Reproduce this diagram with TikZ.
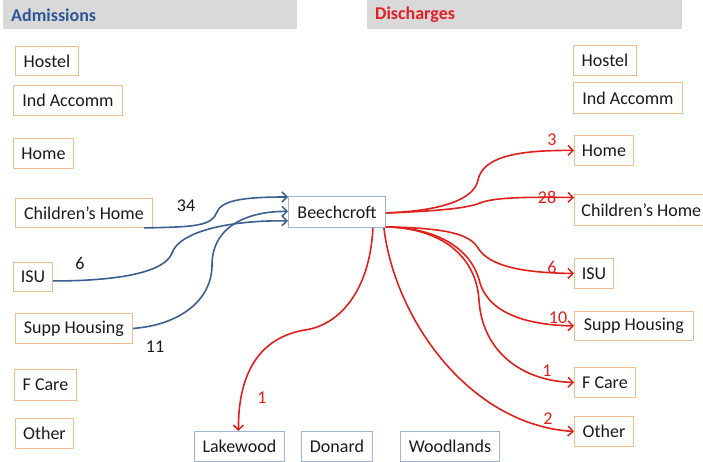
\documentclass[tikz,border=0pt]{standalone}
\usepackage{fontspec}
\setmainfont{Carlito}
\usetikzlibrary{arrows.meta,calc}

\definecolor{headgray}{HTML}{D9D9D9}
\definecolor{admblue}{HTML}{2E5694}
\definecolor{disred}{HTML}{E21F26}
\definecolor{orangeb}{HTML}{F2BC8E}
\definecolor{blueb}{HTML}{9DB5D4}
\definecolor{bluearr}{HTML}{3B5F8F}
\definecolor{redarr}{HTML}{E0201C}
\definecolor{boxtext}{HTML}{1A1A1A}

\newcommand{\boxfont}{\fontsize{18}{21}\selectfont}

\tikzset{
  box/.style={draw, line width=0.9pt, inner sep=0pt, anchor=north west,
    text=boxtext, font=\boxfont, fill=white},
  obox/.style={box, draw=orangeb},
  bbox/.style={box, draw=blueb},
  header/.style={fill=headgray, draw=none, inner sep=0pt, anchor=north west,
    font=\boxfont\bfseries},
  inflow/.style={draw=bluearr, line width=1.6pt,
    -{Straight Barb[length=5pt,width=10pt,line width=1.5pt]}},
  outflow/.style={draw=redarr, line width=1.6pt,
    -{Straight Barb[length=5pt,width=10pt,line width=1.5pt]}},
  redcount/.style={text=redarr, font=\boxfont, inner sep=0pt},
  blackcount/.style={text=boxtext, font=\boxfont, inner sep=0pt}
}

\begin{document}
\begin{tikzpicture}[x=1pt,y=-1pt]
\useasboundingbox (0,0) rectangle (703,462);

% headers
\node[header, minimum width=294pt, minimum height=29pt] (hadm) at (3,0) {};
\node[anchor=west, text=admblue, font=\boxfont\bfseries, inner sep=0pt] (tadm) at (11,15) {Admissions};
\node[header, minimum width=315pt, minimum height=29pt] (hdis) at (367,0) {};
\node[anchor=west, text=disred, font=\boxfont\bfseries, inner sep=0pt] (tdis) at (375,15) {Discharges};

% admission sources
\node[obox, minimum width=63pt, minimum height=29pt] (lhostel) at (15,46) {Hostel};
\node[obox, minimum width=109pt, minimum height=30pt] (lind) at (13,85) {Ind Accomm};
\node[obox, minimum width=60pt, minimum height=30pt] (lhome) at (13,138) {Home};
\node[obox, minimum width=137pt, minimum height=29pt] (lch) at (15,198) {Children’s Home};
\node[obox, minimum width=39pt, minimum height=29pt] (lisu) at (13,262) {ISU};
\node[obox, minimum width=117pt, minimum height=30pt] (lsupp) at (15,313) {Supp Housing};
\node[obox, minimum width=62pt, minimum height=31pt] (lfc) at (14,369) {F Care};
\node[obox, minimum width=58pt, minimum height=30pt] (lother) at (15,418) {Other};

% unit
\node[bbox, minimum width=97pt, minimum height=31pt] (bee) at (288,196) {Beechcroft};

% discharge destinations
\node[obox, minimum width=63pt, minimum height=30pt] (rhostel) at (573,45) {Hostel};
\node[obox, minimum width=109pt, minimum height=31pt] (rind) at (573,82) {Ind Accomm};
\node[obox, minimum width=59pt, minimum height=30pt] (rhome) at (574,135) {Home};
\node[obox, minimum height=31pt] (rch) at (574,194) {\makebox[133pt][l]{\hspace*{7pt}Children’s Home}};
\node[obox, minimum width=39pt, minimum height=30pt] (risu) at (574,258) {ISU};
\node[obox, minimum width=119pt, minimum height=29pt] (rsupp) at (574,311) {Supp Housing};
\node[obox, minimum width=61pt, minimum height=30pt] (rfc) at (574,367) {F Care};
\node[obox, minimum width=59pt, minimum height=30pt] (rother) at (574,416) {Other};

% other units
\node[bbox, minimum width=90pt, minimum height=30pt] (lake) at (194,431) {Lakewood};
\node[bbox, minimum width=71pt, minimum height=30pt] (donard) at (301,431) {Donard};
\node[bbox, minimum width=99pt, minimum height=30pt] (wood) at (400,431) {Woodlands};

% admissions
\draw[inflow] ([xshift=-9pt]lch.south east)
  .. controls (195,227) and (212,226) .. (217,212)
  .. controls (222,199) and (250,197) .. ([yshift=-1pt]bee.north west);
\draw[inflow] ([yshift=-4pt]lisu.east)
  .. controls (120,281) and (165,272) .. (172,253)
  .. controls (180,230) and (235,220) .. ([yshift=7pt]bee.south west);
\draw[inflow] (lsupp.east)
  .. controls (180,325) and (212,300) .. (212,265)
  .. controls (212,225) and (250,211) .. ([yshift=0.5pt]bee.west);

% discharges
\draw[outflow] ([yshift=-1pt]bee.east)
  .. controls (440,211) and (474,200) .. (478,180)
  .. controls (483,156) and (520,150) .. (rhome.west);
\draw[outflow] ([yshift=-1pt]bee.east)
  .. controls (440,211) and (468,208) .. (480,203)
  .. controls (495,197) and (530,197) .. ([yshift=12.5pt]rch.west);
\draw[outflow] ([yshift=1pt]bee.south east)
  .. controls (450,228) and (470,235) .. (478,248)
  .. controls (490,268) and (530,273) .. (risu.west);
\draw[outflow] ([yshift=1pt]bee.south east)
  .. controls (440,228) and (472,250) .. (480,283)
  .. controls (490,315) and (530,325) .. (rsupp.west);
\draw[outflow] ([yshift=1pt]bee.south east)
  .. controls (440,228) and (476,255) .. (479,300)
  .. controls (482,350) and (520,381) .. (rfc.west);
\draw[outflow] ([xshift=-2pt]bee.south east)
  .. controls (395,320) and (470,425) .. (rother.west);
\draw[outflow] ([xshift=-13pt]bee.south east)
  .. controls (370,290) and (340,325) .. (305,330)
  .. controls (262,337) and (238,370) .. ([xshift=-1pt]lake.north);

% counts
\node[blackcount] (n34) at (186,206) {34};
\node[blackcount] (n6) at (80,263) {6};
\node[blackcount] (n11) at (155,347) {11};
\node[redcount] (m3) at (552,140) {3};
\node[redcount] (m28) at (547,197) {28};
\node[redcount] (m6) at (552,267) {6};
\node[redcount] (m10) at (558,318) {10};
\node[redcount] (m1) at (547,371) {1};
\node[redcount] (m2) at (548,419) {2};
\node[redcount] (m1b) at (262,398) {1};
\end{tikzpicture}
\end{document}
